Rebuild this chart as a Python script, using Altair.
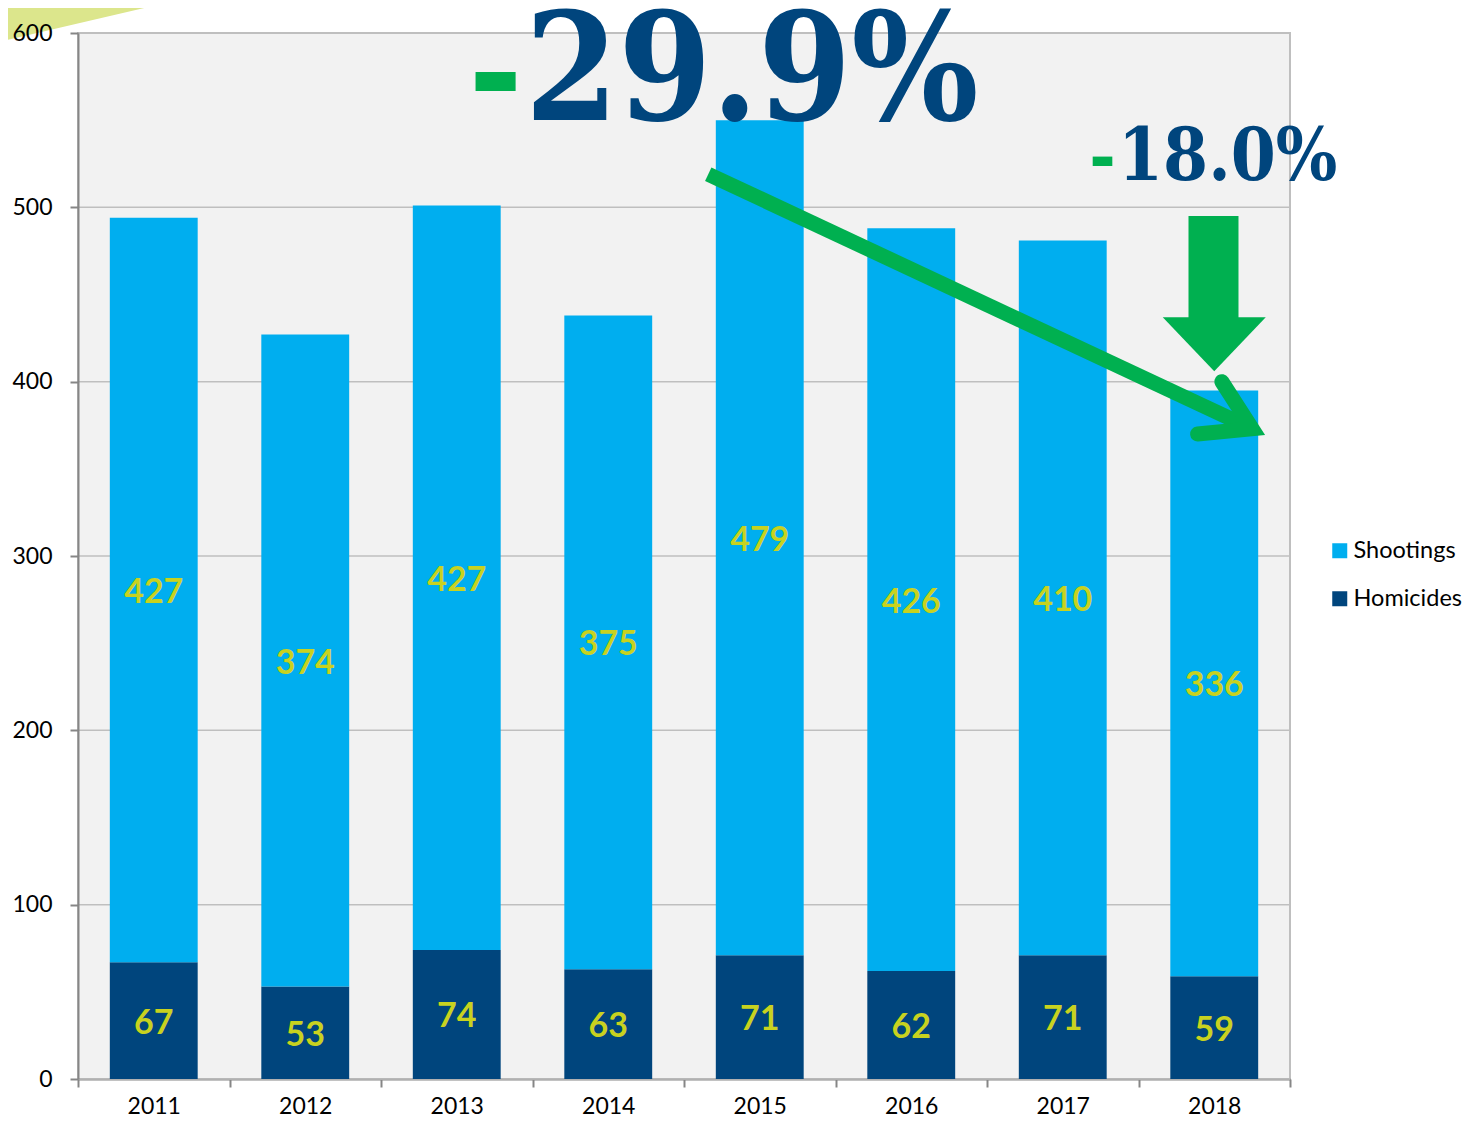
import altair as alt
import pandas as pd

# ---------------- data ----------------
years = ["2011", "2012", "2013", "2014", "2015", "2016", "2017", "2018"]
homicides = [67, 53, 74, 63, 71, 62, 71, 59]
shootings = [427, 374, 427, 375, 479, 426, 410, 336]
series_names = ["Shootings", "Homicides"]
series_colors = ["#00AEEF", "#00457D"]
y_ticks = [0, 100, 200, 300, 400, 500, 600]

big_change = "29.9%"
small_change = "18.0%"
dash = "-"

# annotation geometry in data units (x: category index 0..8, y: count)
shaft_x = [4.16, 7.75]
shaft_y = [519, 373]
head_x = [7.55, 7.75, 7.39]
head_y = [400, 373, 370]
down_body_x = [7.33, 7.66]
down_body_y = [435, 495]
down_head_x = [7.16, 7.50, 7.84]
down_head_top = [437, 437, 437]
down_head_bottom = [437, 406, 437]
wedge_x = [-0.47, 0.47]
wedge_top = [615, 615]
wedge_bottom = [596, 615]
big_pos = (2.95, 550.0)
big_dash_pos = (2.756, 550.0)
small_pos = (6.865, 515.5)
small_dash_pos = (6.762, 515.5)

# ---------------- styling ----------------
W, H = 1212, 1046
LBL_FONT = "Lato"
SERIF = "DejaVu Serif Condensed, DejaVu Serif"
NAVY = "#00457D"
GREEN = "#00B050"
LABEL_COLOR = "#C8D21F"

rows = []
for i, yr in enumerate(years):
    rows.append(dict(year=yr, series="Homicides", value=homicides[i],
                     y0=0, y1=homicides[i], mid=homicides[i] / 2))
    rows.append(dict(year=yr, series="Shootings", value=shootings[i],
                     y0=homicides[i], y1=homicides[i] + shootings[i],
                     mid=homicides[i] + shootings[i] / 2))
df = pd.DataFrame(rows)
grid_df = pd.DataFrame({"y1": y_ticks})

yscale = alt.Scale(domain=[0, 600], nice=False, zero=True)
yaxis = alt.Axis(values=y_ticks, labelFont=LBL_FONT, labelFontSize=23, labelColor="#000000",
                 domainColor="#868686", domainWidth=2, tickColor="#868686", tickWidth=2,
                 tickSize=8, labelPadding=18, grid=False, zindex=1)
xscale_band = alt.Scale(paddingInner=0, paddingOuter=0)
xaxis = alt.Axis(labelAngle=0, labelFont=LBL_FONT, labelFontSize=23, labelColor="#000000",
                 domainColor="#868686", domainWidth=2, tickColor="#868686", tickWidth=2,
                 tickSize=8, tickBand="extent", labelPadding=8, grid=False)
xq = alt.Scale(domain=[0, 8], nice=False, zero=False)

X_BAND = alt.X("year:N", scale=xscale_band, axis=xaxis, title=None, sort=years)

def YQ(field="y1"):
    return alt.Y(f"{field}:Q", scale=yscale, axis=yaxis, title=None)

gridlines = alt.Chart(grid_df).mark_rule(color="#BFBFBF", strokeWidth=1.5).encode(
    y=YQ(),
)

bars = alt.Chart(df).mark_bar(width=alt.RelativeBandSize(0.58)).encode(
    x=X_BAND,
    y=YQ(),
    y2="y0:Q",
    color=alt.Color("series:N", scale=alt.Scale(domain=series_names, range=series_colors),
                    sort=series_names,
                    legend=alt.Legend(title=None, orient="none", legendX=1250, legendY=506,
                                      symbolType="square", symbolSize=225, symbolStrokeWidth=0,
                                      labelFont=LBL_FONT, labelFontSize=23.5, labelColor="#000000",
                                      labelOffset=2, rowPadding=23, offset=0)),
)

labels = alt.Chart(df).mark_text(font=LBL_FONT, fontSize=34, fontWeight="bold",
                                 color=LABEL_COLOR, baseline="middle", dy=3).encode(
    x=X_BAND,
    y=YQ("mid"),
    text="value:Q",
)

base = alt.layer(bars, labels)

# annotations
XQ = alt.X("ax:Q", scale=xq, axis=None)

wedge_df = pd.DataFrame({"ax": wedge_x, "y1": wedge_top, "y0": wedge_bottom})
wedge = alt.Chart(wedge_df).mark_area(color="#DCE68C", clip=False).encode(
    x=XQ, y=YQ(), y2="y0:Q",
)

shaft_df = pd.DataFrame({"ax": shaft_x, "y1": shaft_y, "o": [0, 1]})
shaft = alt.Chart(shaft_df).mark_line(color=GREEN, strokeWidth=15, strokeCap="butt").encode(
    x=XQ, y=YQ(), order="o:Q",
)
head_df = pd.DataFrame({"ax": head_x, "y1": head_y, "o": [0, 1, 2]})
head = alt.Chart(head_df).mark_line(color=GREEN, strokeWidth=15, strokeCap="round",
                                    strokeJoin="miter").encode(
    x=XQ, y=YQ(), order="o:Q",
)

body_df = pd.DataFrame({"ax": [down_body_x[0]], "ax2": [down_body_x[1]],
                        "y1": [down_body_y[1]], "y0": [down_body_y[0]]})
down_body = alt.Chart(body_df).mark_rect(color=GREEN).encode(
    x=XQ, x2="ax2:Q", y=YQ(), y2="y0:Q",
)
dhead_df = pd.DataFrame({"ax": down_head_x, "y1": down_head_top, "y0": down_head_bottom})
down_head = alt.Chart(dhead_df).mark_area(color=GREEN, orient="vertical").encode(
    x=XQ, y=YQ(), y2="y0:Q",
)

def text_layer(txt, pos, size, color, align):
    d = pd.DataFrame({"ax": [pos[0]], "y1": [pos[1]], "t": [txt]})
    return alt.Chart(d).mark_text(font=SERIF, fontSize=size, fontWeight="bold", color=color,
                                  align=align, baseline="alphabetic").encode(
        x=XQ, y=YQ(), text="t:N",
    )

big = text_layer(big_change, big_pos, 149, NAVY, "left")
big_dash = text_layer(dash, big_dash_pos, 145, GREEN, "center")
small = text_layer(small_change, small_pos, 72, NAVY, "left")
small_dash = text_layer(dash, small_dash_pos, 71, GREEN, "center")

annot = alt.layer(big, big_dash, shaft, head, down_body, down_head, small, small_dash)
back = alt.layer(wedge, gridlines)

chart = alt.layer(
    back, base, annot
).resolve_scale(x="independent").properties(
    width=W, height=H,
    autosize=alt.AutoSizeParams(type="none"),
    padding={"left": 70, "top": 25, "right": 186, "bottom": 38},
    background="#FFFFFF",
).configure_view(fill="#F2F2F2", stroke="#BFBFBF", strokeWidth=2)

chart.save("out.html", embed_options={"renderer": "svg", "actions": False})
